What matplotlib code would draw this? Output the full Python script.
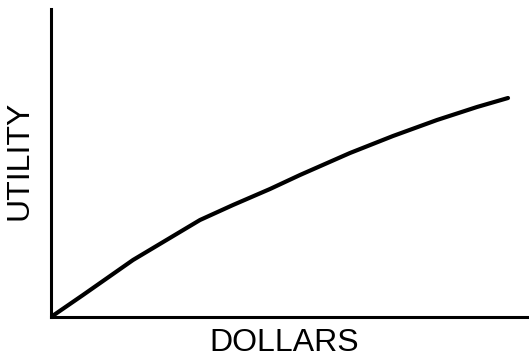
import matplotlib
matplotlib.use("Agg")
import matplotlib.pyplot as plt

# curve (arbitrary units)
dollars = [0, 32, 82, 149, 182, 219, 249, 299, 342, 386, 426, 457]
utility = [0, 22, 57, 97, 112, 128, 142, 164, 181, 197, 210, 219]

W, H = 529, 364
fig = plt.figure(figsize=(W / 100, H / 100), dpi=100)
ax = fig.add_axes([51 / W, 47 / H, 477 / W, 308 / H])

ax.plot(dollars, utility, color='black', linewidth=3.0, solid_capstyle='round',
        solid_joinstyle='round')
ax.set_xlim(0, 477)
ax.set_ylim(0, 308)

for side in ('top', 'right'):
    ax.spines[side].set_visible(False)
for side in ('left', 'bottom'):
    ax.spines[side].set_linewidth(2.2)
ax.set_xticks([])
ax.set_yticks([])

fig.text(284 / W, 1 - 343 / H, 'DOLLARS', ha='center', va='center',
         fontsize=23, family='Liberation Sans')
fig.text(20 / W, 1 - 160 / H, 'UTILITY', ha='center', va='center',
         rotation=90, fontsize=23, family='Liberation Sans')

fig.savefig('out.png', dpi=100)
